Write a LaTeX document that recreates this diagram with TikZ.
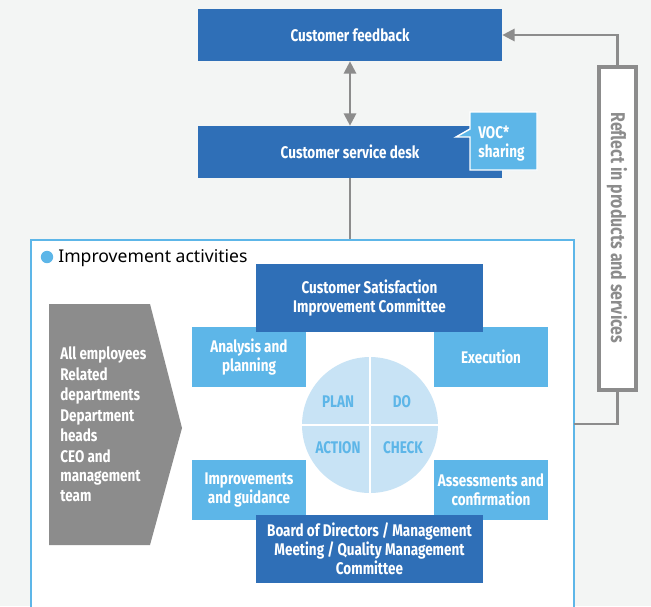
\documentclass[tikz,border=0pt]{standalone}
\usepackage{fontspec}
\setmainfont{Noto Sans}
\newfontfamily\cond{Fira Sans}[FakeStretch=0.8]
\usetikzlibrary{arrows,arrows.meta,positioning,shapes,calc}
\definecolor{darkblue}{HTML}{2F6FB7}
\definecolor{lightblue}{HTML}{5DB6E8}
\definecolor{paleblue}{HTML}{C8E3F5}
\definecolor{midgray}{HTML}{8C8C8C}
\definecolor{bggray}{HTML}{F3F5F4}
\tikzset{
  lbl/.style={font=\cond\bfseries\fontsize{9.6}{10.9}\selectfont},
  darkbox/.style={lbl, fill=darkblue, text=white, align=center, inner sep=0pt},
  lightbox/.style={lbl, fill=lightblue, text=white, align=center, inner sep=0pt,
    minimum width=2.28cm, minimum height=1.2cm},
  pdca/.style={lbl, text=lightblue},
  conn/.style={midgray, line width=1.3pt},
  tip/.style={-{Triangle[length=7pt, width=7pt]}}
}
\begin{document}
\begin{tikzpicture}[x=0.02cm, y=-0.02cm]
        \useasboundingbox (0,0) rectangle (651,606);
        \clip (0,0) rectangle (651,606);
        \fill[bggray] (0,0) rectangle (651,606);
        %nodes
        \node[darkbox, minimum width=6.08cm, minimum height=1.04cm] (feedback) at (350,35) {Customer feedback};
        \node[darkbox, minimum width=6.08cm, minimum height=1.04cm] (desk) at (350,152) {Customer service desk};
        \path[fill=lightblue, draw=white, line width=0.8pt]
          (470,112) -- (537,112) -- (537,170) -- (470,170) -- (470,137) -- (456,137) -- (470,129) -- cycle;
        \node[lbl, text=white, align=left, anchor=west, inner sep=0pt] (voc) at (478,144) {VOC*\\sharing};
        \node[draw=midgray, line width=1.8pt, fill=white, minimum width=0.74cm, minimum height=6.46cm] (reflect) at (617.5,228.5) {};
        \node[lbl, text=midgray, rotate=-90, font=\cond\bfseries\fontsize{11.3}{13}\selectfont] (reflecttext) at (617,228) {Reflect in products and services};
        \node[draw=lightblue, line width=1.5pt, fill=white, minimum width=10.86cm, minimum height=7.6cm] (activities) at (302.5,430) {};
        \coordinate (ret) at (574,424);
        % title of the box
        \fill[lightblue] (47,257) circle (6.2);
        \node[anchor=west, inner sep=0pt, font=\fontsize{10}{12}\selectfont] (title) at (58,258) {Improvement activities};
        % members
        \fill[midgray] (49,304) -- (150,304) -- (182,428) -- (150,545) -- (49,545) -- cycle;
        \node[lbl, text=white, align=left, anchor=north west, inner sep=0pt] (members) at (60,346)
          {All employees\\[1.5pt] Related\\ departments\\[1.5pt] Department\\ heads\\[1.5pt] CEO and\\ management\\ team};
        % cycle
        \node[lightbox] (analysis) at (249,357) {Analysis and\\ planning};
        \node[lightbox] (execution) at (491,357) {Execution};
        \node[lightbox] (improve) at (249,490) {Improvements\\ and guidance};
        \node[lightbox] (assess) at (491,490) {Assessments and\\ confirmation};
        \node[darkbox, minimum width=4.54cm, minimum height=1.36cm, text depth=2pt] (committee) at (369.5,298) {Customer Satisfaction\\ Improvement Committee};
        \node[darkbox, minimum width=4.54cm, minimum height=1.36cm] (board) at (369.5,549) {Board of Directors / Management\\ Meeting / Quality Management\\ Committee};
        \node[circle, fill=paleblue, minimum size=2.72cm, inner sep=0pt] (wheel) at (370,425) {};
        \draw[white, line width=1.5pt] (wheel.north) -- (wheel.south) (wheel.west) -- (wheel.east);
        \node[pdca] (plan) at (338,402) {PLAN};
        \node[pdca] (do) at (402,402) {DO};
        \node[pdca] (action) at (338,448) {ACTION};
        \node[pdca] (check) at (403,448) {CHECK};
        %edges
        \path [conn, draw, {Triangle[length=7pt, width=7pt]}-{Triangle[length=7pt, width=7pt]}] (feedback) -- (desk);
        \path [conn, draw] (desk.south) -- (desk.south |- activities.north);
        \path [conn, draw, tip] (reflect.north) |- (feedback.east);
        \path [conn, draw] (reflect.south) |- (ret);
      \end{tikzpicture}
\end{document}
